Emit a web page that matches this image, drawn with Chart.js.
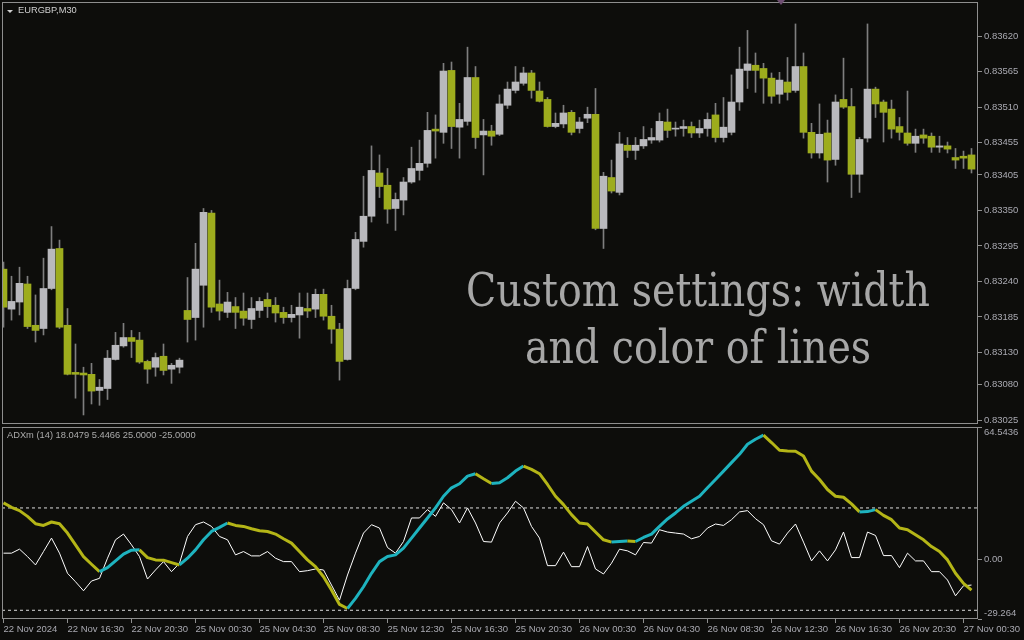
<!DOCTYPE html>
<html>
<head>
<meta charset="utf-8">
<script src="https://cdn.jsdelivr.net/npm/chart.js@4.4.0/dist/chart.umd.min.js"></script>
<style>
    html, body { margin: 0; padding: 0; background: #0d0d0b; }
    #wrap { position: relative; width: 1024px; height: 640px; overflow: hidden; background: #0d0d0b; }
    #priceBox { position: absolute; left: 0; top: 0; width: 1024px; height: 426px; }
    #adxBox { position: absolute; left: 0; top: 426px; width: 1024px; height: 214px; }
    .txt { position: absolute; font-family: "Liberation Sans", sans-serif; font-size: 9.3px; line-height: 1; white-space: nowrap; }
    #symbol { left: 18px; top: 6px; color: #cfcfcf; }
    #symbolArrow { position: absolute; left: 7px; top: 10px; width: 0; height: 0;
        border-left: 3px solid transparent; border-right: 3px solid transparent; border-top: 3px solid #cfcfcf; }
    #shiftMark { position: absolute; left: 777px; top: 0; width: 0; height: 0;
        border-left: 4px solid transparent; border-right: 4px solid transparent; border-top: 5px solid #6e4f72; }
    #adxName { left: 7px; top: 431px; color: #ababab; }
    .note { position: absolute; left: 698px; font-family: "DejaVu Serif", serif; font-size: 46px; line-height: 46px;
        color: #a7a7a7; white-space: nowrap; transform-origin: 50% 0; }
    #note1 { top: 267px; }
    #note2 { top: 324px; }
</style>
</head>
<body>
<div id="wrap">
    <div id="priceBox"><canvas id="priceChart"></canvas></div>
    <div id="adxBox"><canvas id="adxChart"></canvas></div>
    <div id="symbolArrow"></div>
    <div id="shiftMark"></div>
    <div id="symbol" class="txt">EURGBP,M30</div>
    <div id="adxName" class="txt">ADXm (14) 18.0479 5.4466 25.0000 -25.0000</div>
    <div id="note1" class="note">Custom settings: width</div>
    <div id="note2" class="note">and color of lines</div>
</div>
<script>
// EURGBP M30 candles + ADXm (14) panel

const xLabels = ['22 Nov 2024', '22 Nov 16:30', '22 Nov 20:30', '25 Nov 00:30', '25 Nov 04:30', '25 Nov 08:30',
    '25 Nov 12:30', '25 Nov 16:30', '25 Nov 20:30', '26 Nov 00:30', '26 Nov 04:30', '26 Nov 08:30',
    '26 Nov 12:30', '26 Nov 16:30', '26 Nov 20:30', '27 Nov 00:30'];

const priceTicks = [0.83620, 0.83565, 0.83510, 0.83455, 0.83405, 0.83350, 0.83295, 0.83240, 0.83185, 0.83130, 0.83080, 0.83025];

const opens = [
    0.83259, 0.83197, 0.83208, 0.83236, 0.83172, 0.83167, 0.83229, 0.83291, 0.83172, 0.83099,
    0.83098, 0.83096, 0.83071, 0.83074, 0.83119, 0.83140, 0.83153, 0.83149, 0.83116, 0.83107,
    0.83124, 0.83104, 0.83107, 0.83195, 0.83184, 0.83234, 0.83346, 0.83205, 0.83192, 0.83201,
    0.83194, 0.83181, 0.83195, 0.83212, 0.83203, 0.83192, 0.83184, 0.83188, 0.83198, 0.83197,
    0.83220, 0.83186, 0.83166, 0.83119, 0.83229, 0.83302, 0.83341, 0.83408, 0.83389, 0.83353,
    0.83366, 0.83394, 0.83412, 0.83423, 0.83476, 0.83471, 0.83567, 0.83479, 0.83488, 0.83556,
    0.83467, 0.83473, 0.83468, 0.83513, 0.83536, 0.83547, 0.83563, 0.83535, 0.83522, 0.83480,
    0.83484, 0.83502, 0.83477, 0.83493, 0.83499, 0.83322, 0.83401, 0.83378, 0.83451, 0.83443,
    0.83450, 0.83459, 0.83459, 0.83487, 0.83476, 0.83477, 0.83480, 0.83470, 0.83477, 0.83498,
    0.83463, 0.83471, 0.83518, 0.83567, 0.83575, 0.83570, 0.83555, 0.83530, 0.83549, 0.83536,
    0.83573, 0.83471, 0.83439, 0.83470, 0.83429, 0.83522, 0.83511, 0.83406, 0.83462, 0.83538,
    0.83518, 0.83507, 0.83480, 0.83470, 0.83454, 0.83467, 0.83465, 0.83448, 0.83450, 0.83432,
    0.83434, 0.83436];
const highs = [
    0.83270, 0.83248, 0.83262, 0.83248, 0.83219, 0.83276, 0.83325, 0.83304, 0.83198, 0.83143,
    0.83107, 0.83113, 0.83088, 0.83133, 0.83161, 0.83175, 0.83164, 0.83161, 0.83118, 0.83129,
    0.83143, 0.83113, 0.83121, 0.83246, 0.83299, 0.83353, 0.83350, 0.83242, 0.83223, 0.83215,
    0.83222, 0.83215, 0.83215, 0.83222, 0.83215, 0.83200, 0.83203, 0.83222, 0.83222, 0.83228,
    0.83228, 0.83203, 0.83175, 0.83242, 0.83316, 0.83403, 0.83450, 0.83436, 0.83415, 0.83377,
    0.83401, 0.83448, 0.83459, 0.83502, 0.83498, 0.83578, 0.83580, 0.83516, 0.83603, 0.83573,
    0.83491, 0.83482, 0.83529, 0.83549, 0.83573, 0.83572, 0.83567, 0.83549, 0.83525, 0.83501,
    0.83513, 0.83505, 0.83494, 0.83510, 0.83539, 0.83409, 0.83428, 0.83471, 0.83463, 0.83463,
    0.83480, 0.83477, 0.83501, 0.83507, 0.83487, 0.83490, 0.83487, 0.83490, 0.83501, 0.83516,
    0.83525, 0.83560, 0.83603, 0.83629, 0.83594, 0.83578, 0.83563, 0.83564, 0.83587, 0.83639,
    0.83594, 0.83485, 0.83515, 0.83490, 0.83529, 0.83586, 0.83539, 0.83463, 0.83639, 0.83541,
    0.83521, 0.83521, 0.83494, 0.83535, 0.83476, 0.83476, 0.83470, 0.83465, 0.83456, 0.83446,
    0.83442, 0.83446];
const lows = [
    0.83169, 0.83180, 0.83188, 0.83167, 0.83146, 0.83157, 0.83227, 0.83167, 0.83095, 0.83059,
    0.83033, 0.83050, 0.83048, 0.83057, 0.83118, 0.83138, 0.83122, 0.83113, 0.83082, 0.83093,
    0.83095, 0.83082, 0.83098, 0.83146, 0.83149, 0.83169, 0.83192, 0.83180, 0.83184, 0.83167,
    0.83172, 0.83167, 0.83184, 0.83184, 0.83177, 0.83175, 0.83177, 0.83152, 0.83184, 0.83184,
    0.83180, 0.83144, 0.83087, 0.83118, 0.83227, 0.83293, 0.83332, 0.83370, 0.83330, 0.83319,
    0.83343, 0.83392, 0.83397, 0.83417, 0.83431, 0.83454, 0.83446, 0.83431, 0.83482, 0.83446,
    0.83405, 0.83451, 0.83466, 0.83508, 0.83532, 0.83544, 0.83524, 0.83518, 0.83479, 0.83478,
    0.83478, 0.83467, 0.83470, 0.83486, 0.83320, 0.83291, 0.83377, 0.83374, 0.83432, 0.83429,
    0.83446, 0.83454, 0.83456, 0.83463, 0.83465, 0.83465, 0.83463, 0.83463, 0.83465, 0.83456,
    0.83456, 0.83467, 0.83505, 0.83539, 0.83533, 0.83516, 0.83516, 0.83516, 0.83521, 0.83533,
    0.83462, 0.83431, 0.83431, 0.83394, 0.83420, 0.83508, 0.83370, 0.83378, 0.83456, 0.83494,
    0.83456, 0.83462, 0.83459, 0.83451, 0.83440, 0.83454, 0.83440, 0.83440, 0.83439, 0.83415,
    0.83415, 0.83408];
const closes = [
    0.83200, 0.83209, 0.83237, 0.83170, 0.83164, 0.83229, 0.83290, 0.83169, 0.83096, 0.83096,
    0.83095, 0.83070, 0.83076, 0.83121, 0.83141, 0.83153, 0.83147, 0.83115, 0.83104, 0.83122,
    0.83102, 0.83110, 0.83118, 0.83181, 0.83259, 0.83347, 0.83200, 0.83194, 0.83208, 0.83192,
    0.83183, 0.83198, 0.83209, 0.83201, 0.83191, 0.83184, 0.83189, 0.83200, 0.83194, 0.83220,
    0.83186, 0.83166, 0.83116, 0.83229, 0.83305, 0.83341, 0.83412, 0.83387, 0.83352, 0.83367,
    0.83394, 0.83415, 0.83423, 0.83474, 0.83473, 0.83566, 0.83480, 0.83491, 0.83556, 0.83463,
    0.83473, 0.83465, 0.83515, 0.83538, 0.83549, 0.83563, 0.83536, 0.83519, 0.83480, 0.83485,
    0.83501, 0.83471, 0.83487, 0.83499, 0.83322, 0.83403, 0.83380, 0.83453, 0.83443, 0.83451,
    0.83460, 0.83463, 0.83488, 0.83474, 0.83477, 0.83480, 0.83470, 0.83477, 0.83491, 0.83463,
    0.83479, 0.83518, 0.83569, 0.83577, 0.83567, 0.83555, 0.83527, 0.83552, 0.83533, 0.83573,
    0.83471, 0.83439, 0.83468, 0.83428, 0.83518, 0.83510, 0.83406, 0.83460, 0.83538, 0.83515,
    0.83502, 0.83476, 0.83471, 0.83454, 0.83465, 0.83462, 0.83448, 0.83450, 0.83445, 0.83428,
    0.83431, 0.83414];

// ADXm main line and the DI line (white)
const adxLine = [
    27.47, 25.31, 23.69, 20.88, 17.30, 16.46, 18.13, 17.30, 12.73, 6.98,
    1.23, -2.51, -6.14, -4.18, -0.88, 2.41, 4.37, 4.52, 0.74, -0.39,
    -0.50, -1.72, -2.85, 0.44, 4.52, 9.43, 13.51, 15.48, 17.64, 16.46,
    15.97, 14.84, 13.86, 13.51, 12.24, 9.93, 7.81, 3.69, -0.39, -3.69,
    -8.60, -15.14, -22.16, -24.13, -19.21, -13.51, -6.93, -1.23, 1.23, 2.06,
    5.36, 10.27, 15.18, 20.10, 25.01, 30.71, 34.84, 36.81, 40.54, 41.72,
    39.26, 36.95, 37.30, 39.75, 43.00, 45.45, 43.83, 41.72, 36.46, 30.71,
    26.63, 21.72, 17.64, 17.15, 13.22, 9.43, 8.30, 8.60, 8.80, 8.60,
    10.57, 12.24, 15.97, 19.61, 22.56, 25.80, 28.26, 30.71, 34.84, 38.92,
    43.00, 47.13, 51.20, 56.12, 58.57, 60.54, 56.95, 53.17, 52.83, 52.70,
    50.37, 43.00, 38.92, 34.00, 30.71, 30.22, 26.98, 23.05, 23.20, 24.18,
    21.38, 19.26, 15.18, 14.35, 11.89, 9.43, 6.14, 3.69, -0.39, -6.93,
    -11.84, -15.14];
const diLine = [
    2.90, 2.90, 4.86, 1.23, -2.85, 3.69, 10.27, 2.90, -6.93, -11.06,
    -15.48, -10.71, -9.39, 0.44, 9.43, 12.24, 6.98, 1.23, -9.73, -5.31,
    -1.23, -6.14, -2.01, 11.06, 16.81, 18.13, 15.97, 11.06, 9.43, 2.06,
    3.69, 1.57, 1.57, 3.69, 0.44, -1.23, -1.23, -6.14, -5.65, -4.82,
    -5.31, -12.68, -20.05, -7.76, 2.90, 12.73, 16.81, 15.18, 5.65, 2.90,
    8.60, 20.10, 20.10, 24.18, 20.88, 27.47, 24.18, 17.64, 25.01, 17.64,
    8.60, 8.30, 17.64, 22.56, 28.26, 25.01, 15.97, 10.27, -3.19, -3.19,
    3.39, -3.69, -3.69, 6.14, -4.82, -7.27, -2.01, 4.86, 4.03, 2.06,
    8.11, 7.81, 14.35, 13.22, 12.73, 12.24, 9.93, 11.06, 15.18, 17.15,
    16.46, 19.26, 23.05, 23.69, 19.75, 16.81, 8.94, 7.32, 12.73, 17.15,
    8.30, -0.88, 4.03, -0.88, 4.52, 13.22, 0.74, 0.74, 13.22, 11.55,
    1.72, 1.72, -4.18, 2.90, -0.88, -0.88, -6.14, -6.14, -10.22, -17.94,
    -13.02, -12.68];
// bar ranges where the ADX line is drawn in the "rising" colour
const adxRise = [[12, 17], [22, 28], [43, 59], [61, 65], [76, 78], [79, 95], [107, 109]];
const adxLevels = [25, -25];
const adxTicks = [-29.264, 0, 64.5436];
const adxTickLabels = ['-29.264', '0.00', '64.5436'];

const FRAME = '#8e8e8e';
const AXIS_TXT = '#a9a9b1';
const BULL = '#b9b9bd';
const BEAR = '#9dac1d';
const WICK = '#7e7e7e';
const ADX_UP = '#1eb3bf';
const ADX_DN = '#b4b517';
const X_MIN = -0.1875, X_MAX = 121.8125;
const axisFont = { family: 'Liberation Sans', size: 9.5 };

const framePlugin = {
    id: 'frame',
    afterDraw(chart) {
        const { ctx, chartArea: a } = chart;
        ctx.save();
        ctx.strokeStyle = FRAME;
        ctx.lineWidth = 1;
        ctx.strokeRect(Math.round(a.left) + 0.5, Math.round(a.top) + 0.5,
            Math.round(a.right - a.left) - 1, Math.round(a.bottom - a.top) - 1);
        ctx.restore();
    }
};

function rising(i0, i1) {
    return adxRise.some(([a, b]) => i0 >= a && i1 <= b);
}

const sideAxis = {
    type: 'linear',
    position: 'right',
    bounds: 'data',
    beginAtZero: false,
    grid: { drawOnChartArea: false, drawTicks: true, tickLength: 4, color: FRAME },
    border: { display: false },
};

new Chart(document.getElementById('priceChart'), {
    type: 'bar',
    data: {
        datasets: [
            {
                label: 'Body',
                data: opens.map((o, i) => ({ x: i, y: [o, closes[i]] })),
                backgroundColor: opens.map((o, i) => closes[i] >= o ? BULL : BEAR),
                borderWidth: 0,
                barThickness: 7,
                minBarLength: 1,
                grouped: false,
                order: 0,
            },
            {
                label: 'Wick',
                data: lows.map((l, i) => ({ x: i, y: [l, highs[i]] })),
                backgroundColor: WICK,
                borderWidth: 0,
                barThickness: 1,
                grouped: false,
                order: 1,
            }
        ]
    },
    options: {
        responsive: true,
        maintainAspectRatio: false,
        animation: false,
        events: [],
        layout: { padding: { left: 2, top: 2, right: 0, bottom: 2 } },
        plugins: { legend: { display: false }, tooltip: { enabled: false } },
        scales: {
            x: { type: 'linear', min: X_MIN, max: X_MAX, bounds: 'data', offset: false, display: false, grid: { offset: false } },
            y: {
                ...sideAxis,
                min: 0.83019,
                max: 0.83673,
                afterBuildTicks: s => { s.ticks = priceTicks.map(v => ({ value: v })); },
                afterFit: s => { s.width = 46; s.paddingTop = 0; s.paddingBottom = 0; },
                ticks: { color: AXIS_TXT, font: axisFont, padding: 2, callback: v => v.toFixed(5) }
            }
        }
    },
    plugins: [framePlugin]
});

new Chart(document.getElementById('adxChart'), {
    type: 'line',
    data: {
        datasets: [
            {
                label: 'ADX',
                data: adxLine.map((v, i) => ({ x: i, y: v })),
                borderColor: ADX_DN,
                borderWidth: 3,
                borderJoinStyle: 'round',
                segment: { borderColor: c => rising(c.p0DataIndex, c.p1DataIndex) ? ADX_UP : ADX_DN },
                pointRadius: 0,
                tension: 0,
                order: 0,
            },
            {
                label: 'DI',
                data: diLine.map((v, i) => ({ x: i, y: v })),
                borderColor: '#ffffff',
                borderWidth: 1,
                pointRadius: 0,
                tension: 0,
                order: 1,
            },
            ...adxLevels.map(lv => ({
                label: 'Level ' + lv,
                data: [{ x: X_MIN, y: lv }, { x: X_MAX, y: lv }],
                borderColor: '#dcdcdc',
                borderWidth: 1,
                borderDash: [3, 3],
                pointRadius: 0,
                order: 2,
            }))
        ]
    },
    options: {
        responsive: true,
        maintainAspectRatio: false,
        animation: false,
        events: [],
        layout: { padding: { left: 2, top: 1, right: 0, bottom: 0 } },
        plugins: { legend: { display: false }, tooltip: { enabled: false } },
        scales: {
            x: {
                type: 'linear',
                position: 'bottom',
                min: X_MIN,
                max: X_MAX,
                bounds: 'data',
                offset: false,
                afterBuildTicks: s => { s.ticks = xLabels.map((_, k) => ({ value: k * 8 })); },
                afterFit: s => { s.height = 21; s.paddingLeft = 0; s.paddingRight = 0; },
                grid: { drawOnChartArea: false, drawTicks: true, tickLength: 4, color: FRAME, offset: false },
                border: { display: false },
                ticks: { color: AXIS_TXT, font: axisFont, padding: 1, align: 'start', maxRotation: 0, autoSkip: false,
                    callback: (v, k) => xLabels[k] }
            },
            y: {
                ...sideAxis,
                min: adxTicks[0],
                max: adxTicks[2],
                afterBuildTicks: s => { s.ticks = adxTicks.map(v => ({ value: v })); },
                afterFit: s => { s.width = 46; s.paddingTop = 0; s.paddingBottom = 0; },
                ticks: {
                    color: AXIS_TXT, font: axisFont, padding: 2,
                    // edge labels sit inside the panel, like the terminal draws them
                    callback: (v, k) => k === 0 ? [adxTickLabels[0], ''] : k === 2 ? ['', adxTickLabels[2]] : adxTickLabels[k]
                }
            }
        }
    },
    plugins: [framePlugin]
});

// squeeze the serif caption to the width it has in the screenshot
const n1 = document.getElementById('note1');
const n2 = document.getElementById('note2');
const sx = 464 / n1.offsetWidth;
[n1, n2].forEach(el => { el.style.transform = 'translateX(-50%) scaleX(' + sx + ')'; });
</script>
</body>
</html>
